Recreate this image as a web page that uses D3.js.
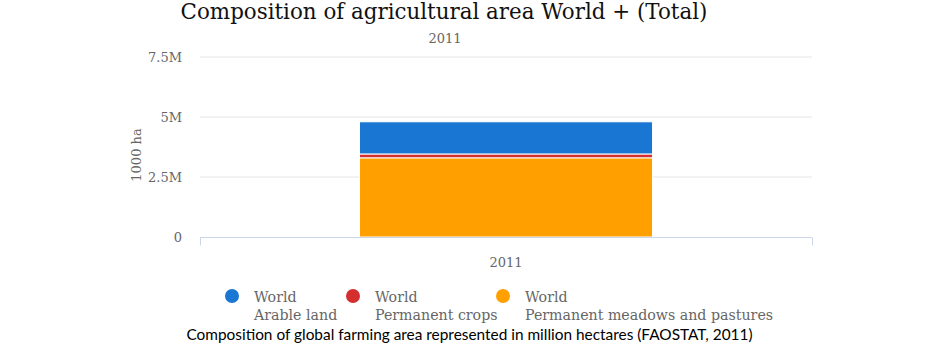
<!DOCTYPE html>
<html><head><meta charset="utf-8">
<script src="https://cdn.jsdelivr.net/npm/d3@7/dist/d3.min.js"></script>
<style>body{margin:0;background:#fff;}svg{display:block;}</style>
</head><body>
<svg id="c" width="940" height="362"></svg>
<script>
const categories = ["2011"];
const seriesNames = ["Arable land", "Permanent crops", "Permanent meadows and pastures"];
const arable = [1340000];
const permCrops = [160000];
const meadows = [3300000];
const yTicks = [0, 2500000, 5000000, 7500000];
const yTickLabels = ["0", "2.5M", "5M", "7.5M"];
const colors = ["#1976d2", "#d32f2f", "#ffa000"];

const svg = d3.select("#c");
const serif = "'DejaVu Serif', serif";
const x = d3.scaleBand().domain(categories).range([200, 812]).paddingInner(0).paddingOuter(0.544);
const y = d3.scaleLinear().domain([0, 7500000]).range([237, 57]);

// grid
svg.append("g").selectAll("line").data(yTicks.slice(1)).join("line")
  .attr("x1", 200).attr("x2", 812).attr("y1", d => y(d)).attr("y2", d => y(d))
  .attr("stroke", "#e6e6e6").attr("stroke-width", 1);

// y labels
svg.append("g").selectAll("text").data(yTicks).join("text")
  .attr("x", 182).attr("y", d => y(d) + 5).attr("text-anchor", "end")
  .attr("font-family", serif).attr("font-size", 13).attr("fill", "#666")
  .text((d, i) => yTickLabels[i]);

// stacked bars (bottom: meadows, then crops, then arable)
const stackData = categories.map((c, i) => ({cat: c, meadows: meadows[i], crops: permCrops[i], arable: arable[i]}));
const stack = d3.stack().keys(["meadows", "crops", "arable"])(stackData);
const colorMap = {meadows: colors[2], crops: colors[1], arable: colors[0]};
svg.append("g").selectAll("g").data(stack).join("g")
  .attr("fill", d => colorMap[d.key])
  .selectAll("rect").data(d => d).join("rect")
  .attr("x", d => x(d.data.cat)).attr("width", x.bandwidth())
  .attr("y", d => y(d[1])).attr("height", d => y(d[0]) - y(d[1]))
  .attr("stroke", "#fff").attr("stroke-width", 1);

// x axis
const xa = svg.append("g").attr("transform", "translate(0,237.5)");
xa.append("line").attr("x1", 200).attr("x2", 812).attr("stroke", "#ccd6eb").attr("stroke-width", 1);
xa.selectAll("line.t").data([200, 812]).join("line").attr("class", "t")
  .attr("x1", d => d + 0.5).attr("x2", d => d + 0.5).attr("y1", 0).attr("y2", 8)
  .attr("stroke", "#ccd6eb");
xa.selectAll("text").data(categories).join("text")
  .attr("x", d => x(d) + x.bandwidth() / 2).attr("y", 29).attr("text-anchor", "middle")
  .attr("font-family", serif).attr("font-size", 13).attr("fill", "#666").text(d => d);

// y title
svg.append("text").attr("transform", "translate(141,155) rotate(-90)")
  .attr("text-anchor", "middle").attr("font-family", serif).attr("font-size", 13)
  .attr("fill", "#666").text("1000 ha");

// title
svg.append("text").attr("x", 444).attr("y", 19).attr("text-anchor", "middle")
  .attr("font-family", serif).attr("font-size", 21.4).attr("fill", "#111")
  .text("Composition of agricultural area World + (Total)");
svg.append("text").attr("x", 445).attr("y", 43).attr("text-anchor", "middle")
  .attr("font-family", serif).attr("font-size", 13).attr("fill", "#666").text("2011");

// legend
const legX = [232, 353, 503];
const lg = svg.append("g").selectAll("g").data(seriesNames).join("g")
  .attr("transform", (d, i) => `translate(${legX[i]},296)`);
lg.append("circle").attr("r", 7).attr("fill", (d, i) => colors[i]);
lg.append("text").attr("x", 22).attr("y", 6).attr("font-family", serif).attr("font-size", 14.2)
  .attr("fill", "#666").text("World");
lg.append("text").attr("x", 22).attr("y", 24).attr("font-family", serif).attr("font-size", 14.2)
  .attr("fill", "#666").text(d => d);

// caption
svg.append("text").attr("x", 469.5).attr("y", 340).attr("text-anchor", "middle")
  .attr("font-family", "Lato, sans-serif").attr("font-size", 15.4).attr("fill", "#000")
  .text("Composition of global farming area represented in million hectares (FAOSTAT, 2011)");
</script>
</body></html>
